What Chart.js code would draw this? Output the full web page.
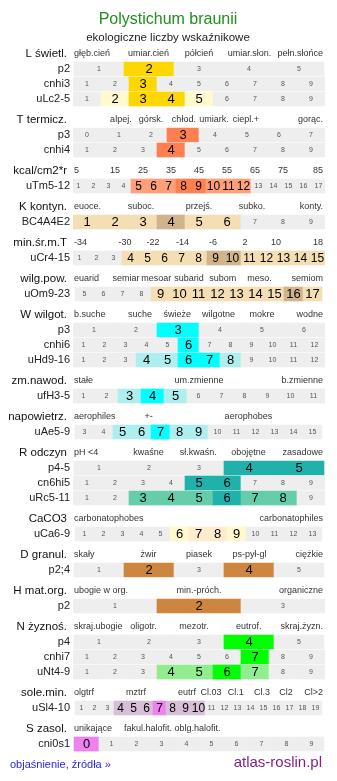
<!DOCTYPE html>
<html>
<head>
<meta charset="utf-8">
<script src="https://cdn.jsdelivr.net/npm/chart.js@4"></script>
<style>
  html, body { margin: 0; padding: 0; background: #fff; }
  canvas { display: block; }
</style>
</head>
<body>
<canvas id="chart" width="337" height="781"></canvas>
<script>
  'use strict';

  const TITLE = 'Polystichum braunii';
  const SUBTITLE = 'ekologiczne liczby wskaźnikowe';
  const LINK = 'objaśnienie, źródła »';
  const SITE = 'atlas-roslin.pl';

  // Header of each block: name, scale labels, where each label sits along the row (0 = left edge, 1 = right edge).
  // Rows: name, cell labels, strong cells, light cells.
  const headL = ['L świetl.', ['głęb.cień', 'umiar.cień', 'półcień', 'umiar.słon.', 'pełn.słońce'], [0, 0.3, 0.5, 0.7, 1]];
  const rowsL = [
    ['p2', [1, 2, 3, 4, 5], [2], []],
    ['cnhi3', [1, 2, 3, 4, 5, 6, 7, 8, 9], [3], []],
    ['uLc2-5', [1, 2, 3, 4, 5, 6, 7, 8, 9], [3, 4], [2, 5]]
  ];
  const colorsL = ['#ffd700', '#fffacd'];

  const headT = ['T termicz.', ['alpej.', 'górsk.', 'chłod.', 'umiark.', 'ciepl.+', 'gorąc.'], [0.19, 0.31, 0.44, 0.56, 0.686, 1]];
  const rowsT = [
    ['p3', [0, 1, 2, 3, 4, 5, 6, 7], [3], []],
    ['cnhi4', [1, 2, 3, 4, 5, 6, 7, 8, 9], [4], []]
  ];
  const colorsT = ['#ff7f50', '#ffa07a'];

  const headKcal = ['kcal/cm2*r', ['5', '15', '25', '35', '45', '55', '65', '75', '85'], [0, 0.167, 0.278, 0.389, 0.5, 0.611, 0.722, 0.833, 1]];
  const rowsKcal = [
    ['uTm5-12', [1, 2, 3, 4, 5, 6, 7, 8, 9, 10, 11, 12, 13, 14, 15, 16, 17], [8, 9], [5, 6, 7, 10, 11, 12]]
  ];
  const colorsKcal = ['#ff7f50', '#ffa07a'];

  const headK = ['K kontyn.', ['euoce.', 'suboc.', 'przejś.', 'subko.', 'konty.'], [0, 0.27, 0.5, 0.71, 1]];
  const rowsK = [
    ['BC4A4E2', [1, 2, 3, 4, 5, 6, 7, 8, 9], [4], [1, 2, 3, 5, 6]]
  ];
  const colorsK = ['#d2b48c', '#f5deb3'];

  const headMin = ['min.śr.m.T', ['-34', '-30', '-22', '-14', '-6', '2', '10', '18'], [0, 0.206, 0.317, 0.435, 0.556, 0.683, 0.806, 1]];
  const rowsMin = [
    ['uCr4-15', [1, 2, 3, 4, 5, 6, 7, 8, 9, 10, 11, 12, 13, 14, 15], [9, 10], [4, 5, 6, 7, 8, 11, 12, 13, 14, 15]]
  ];
  const colorsMin = ['#d2b48c', '#f5deb3'];

  const headWilg = ['wilg.pow.', ['euarid', 'semiar', 'mesoar', 'subarid', 'subom', 'meso.', 'semiom'], [0, 0.21, 0.33, 0.46, 0.594, 0.74, 1]];
  const rowsWilg = [
    ['uOm9-23', [5, 6, 7, 8, 9, 10, 11, 12, 13, 14, 15, 16, 17], [16], [9, 10, 11, 12, 13, 14, 15, 17]]
  ];
  const colorsWilg = ['#d2b48c', '#f5deb3'];

  const headW = ['W wilgot.', ['b.suche', 'suche', 'świeże', 'wilgotne', 'mokre', 'wodne'], [0, 0.266, 0.414, 0.577, 0.75, 1]];
  const rowsW = [
    ['p3', [1, 2, 3, 4, 5, 6], [3], []],
    ['cnhi6', [1, 2, 3, 4, 5, 6, 7, 8, 9, 10, 11, 12], [6], []],
    ['uHd9-16', [1, 2, 3, 4, 5, 6, 7, 8, 9, 10, 11, 12], [6, 7], [4, 5, 8]]
  ];
  const colorsW = ['#00ffff', '#afeeee'];

  const headZm = ['zm.nawod.', ['stałe', 'um.zmienne', 'b.zmienne'], [0, 0.5, 1]];
  const rowsZm = [
    ['ufH3-5', [1, 2, 3, 4, 5, 6, 7, 8, 9, 10, 11], [4], [3, 5]]
  ];
  const colorsZm = ['#00ffff', '#afeeee'];

  const headNap = ['napowietrz.', ['aerophiles', '+-', 'aerophobes'], [0, 0.3, 0.696]];
  const rowsNap = [
    ['uAe5-9', [3, 4, 5, 6, 7, 8, 9, 10, 11, 12, 13, 14, 15], [7], [5, 6, 8, 9]]
  ];
  const colorsNap = ['#00ffff', '#afeeee'];

  const headR = ['R odczyn', ['pH <4', 'kwaśne', 'sł.kwaśn.', 'obojętne', 'zasadowe'], [0, 0.3, 0.497, 0.696, 1]];
  const rowsR = [
    ['p4-5', [1, 2, 3, 4, 5], [4, 5], []],
    ['cn6hi5', [1, 2, 3, 4, 5, 6, 7, 8, 9], [5, 6], []],
    ['uRc5-11', [1, 2, 3, 4, 5, 6, 7, 8, 9], [6], [3, 4, 5, 7, 8]]
  ];
  const colorsR = ['#20b2aa', '#66cdaa'];

  const headCa = ['CaCO3', ['carbonatophobes', 'carbonatophiles'], [0, 1]];
  const rowsCa = [
    ['uCa6-9', [1, 2, 3, 4, 5, 6, 7, 8, 9, 10, 11, 12, 13], [7, 8], [6, 9]]
  ];
  const colorsCa = ['#ffebcd', '#fffacd'];

  const headD = ['D granul.', ['skały', 'żwir', 'piasek', 'ps-pył-gl', 'ciężkie'], [0, 0.3, 0.5, 0.7, 1]];
  const rowsD = [
    ['p2;4', [1, 2, 3, 4, 5], [2, 4], []]
  ];
  const colorsD = ['#cd853f', '#deb887'];

  const headH = ['H mat.org.', ['ubogie w org.', 'min.-próch.', 'organiczne'], [0, 0.5, 1]];
  const rowsH = [
    ['p2', [1, 2, 3], [2], []]
  ];
  const colorsH = ['#cd853f', '#deb887'];

  const headN = ['N żyznoś.', ['skraj.ubogie', 'oligotr.', 'mezotr.', 'eutrof.', 'skraj.żyzn.'], [0, 0.28, 0.48, 0.697, 1]];
  const rowsN = [
    ['p4', [1, 2, 3, 4, 5], [4], []],
    ['cnhi7', [1, 2, 3, 4, 5, 6, 7, 8, 9], [7], []],
    ['uNt4-9', [1, 2, 3, 4, 5, 6, 7, 8, 9], [6], [4, 5, 7]]
  ];
  const colorsN = ['#00ff00', '#90ee90'];

  const headSole = ['sole.min.', ['olgtrf', 'mztrf', 'eutrf', 'Cl.03', 'Cl.1', 'Cl.3', 'Cl2', 'Cl>2'], [0, 0.25, 0.452, 0.548, 0.646, 0.75, 0.845, 1]];
  const rowsSole = [
    ['uSl4-10', [1, 2, 3, 4, 5, 6, 7, 8, 9, 10, 11, 12, 13, 14, 15, 16, 17, 18, 19], [7], [4, 5, 6, 8, 9, 10]]
  ];
  const colorsSole = ['#ee82ee', '#d8bfd8'];

  const headS = ['S zasol.', ['unikające', 'fakul.halofit.', 'oblg.halofit.'], [0, 0.298, 0.494]];
  const rowsS = [
    ['cni0s1', [0, 1, 2, 3, 4, 5, 6, 7, 8, 9], [0], []]
  ];
  const colorsS = ['#ee82ee', '#d8bfd8'];

  const blocks = [
    [headL, rowsL, colorsL], [headT, rowsT, colorsT], [headKcal, rowsKcal, colorsKcal],
    [headK, rowsK, colorsK], [headMin, rowsMin, colorsMin], [headWilg, rowsWilg, colorsWilg],
    [headW, rowsW, colorsW], [headZm, rowsZm, colorsZm], [headNap, rowsNap, colorsNap],
    [headR, rowsR, colorsR], [headCa, rowsCa, colorsCa], [headD, rowsD, colorsD],
    [headH, rowsH, colorsH], [headN, rowsN, colorsN], [headSole, rowsSole, colorsSole],
    [headS, rowsS, colorsS]
  ];

  // Layout (pixels)
  const W = 337, H = 781;
  const GRID_LEFT = 73, GRID_W = 252;
  const FIRST_HEAD = 54, ROW_STEP = 15, BLOCK_GAP = 21, ROW_H = 14;
  const GREY = '#eeeeee';
  const FONT = "'Liberation Sans', Arial, sans-serif";

  // Build cells, header lines and row names.
  const cells = [];
  const heads = [];
  const rowNames = [];
  let pos = FIRST_HEAD;
  blocks.forEach(function (block) {
    const head = block[0], rows = block[1], colors = block[2];
    heads.push({ y: pos, name: head[0], labels: head[1], at: head[2] });
    rows.forEach(function (row, r) {
      const yc = pos + ROW_STEP * (r + 1);
      rowNames.push({ y: yc, name: row[0] });
      const n = row[1].length;
      const cw = Math.round(GRID_W / n);
      const off = Math.floor((GRID_W - cw * n) / 2);
      row[1].forEach(function (v, i) {
        let level = 0;
        if (row[2].indexOf(v) >= 0) level = 2;
        else if (row[3].indexOf(v) >= 0) level = 1;
        cells.push({
          x0: off + i * cw,
          x1: off + (i + 1) * cw,
          y: yc,
          text: String(v),
          level: level,
          big: cw > 17 ? 13 : 12,
          color: level === 2 ? colors[0] : (level === 1 ? colors[1] : GREY)
        });
      });
    });
    pos += ROW_STEP * rows.length + BLOCK_GAP;
  });

  const textPlugin = {
    id: 'texts',
    afterDatasetsDraw: function (chart) {
      const ctx = chart.ctx;
      const yScale = chart.scales.y;
      const area = chart.chartArea;
      const meta = chart.getDatasetMeta(0);
      ctx.save();
      ctx.textBaseline = 'middle';

      // Title
      ctx.textAlign = 'center';
      ctx.fillStyle = '#1f8f1f';
      ctx.font = '16px ' + FONT;
      ctx.fillText(TITLE, 168, 20);
      ctx.fillStyle = '#222';
      ctx.font = '11.5px ' + FONT;
      ctx.fillText(SUBTITLE, 168, 38);

      // Block headers
      heads.forEach(function (h) {
        const y = yScale.getPixelForValue(h.y);
        ctx.textAlign = 'right';
        ctx.fillStyle = '#111';
        ctx.font = '11.5px ' + FONT;
        ctx.fillText(h.name, 67, y);
        ctx.fillStyle = '#333';
        ctx.font = '9px ' + FONT;
        h.labels.forEach(function (label, i) {
          const f = h.at[i];
          const x = area.left + f * (area.right - area.left);
          ctx.textAlign = f === 0 ? 'left' : (f === 1 ? 'right' : 'center');
          ctx.fillText(label, x + (f === 0 ? 1 : (f === 1 ? -2 : 0)), y);
        });
      });

      // Row names
      ctx.textAlign = 'right';
      ctx.fillStyle = '#222';
      ctx.font = '11px ' + FONT;
      rowNames.forEach(function (r) {
        ctx.fillText(r.name, 70, yScale.getPixelForValue(r.y));
      });

      // Cell numbers
      ctx.textAlign = 'center';
      meta.data.forEach(function (bar, i) {
        const c = cells[i];
        const p = bar.getProps(['x', 'y', 'base'], true);
        const cx = (p.x + p.base) / 2;
        if (c.level) {
          ctx.font = c.big + 'px ' + FONT;
          ctx.fillStyle = '#000';
          ctx.fillText(c.text, cx, p.y + 0.5);
        } else {
          ctx.font = '7px ' + FONT;
          ctx.fillStyle = '#555';
          ctx.fillText(c.text, cx, p.y);
        }
      });

      // Footer
      ctx.textAlign = 'left';
      ctx.fillStyle = '#2626ee';
      ctx.font = '11px ' + FONT;
      ctx.fillText(LINK, 10, 765);
      ctx.textAlign = 'right';
      ctx.fillStyle = '#7f1f7f';
      ctx.font = '15px ' + FONT;
      ctx.fillText(SITE, 322, 763);
      ctx.restore();
    }
  };

  new Chart(document.getElementById('chart'), {
    type: 'bar',
    data: {
      datasets: [{
        data: cells.map(function (c) { return { x: [c.x0, c.x1], y: c.y }; }),
        backgroundColor: cells.map(function (c) { return c.color; }),
        borderWidth: 0,
        borderSkipped: false,
        barThickness: ROW_H
      }]
    },
    options: {
      indexAxis: 'y',
      responsive: false,
      animation: false,
      devicePixelRatio: 1,
      events: [],
      layout: { padding: { left: GRID_LEFT, right: W - GRID_LEFT - GRID_W, top: 0, bottom: 0 } },
      scales: {
        x: { type: 'linear', min: 0, max: GRID_W, display: false },
        y: { type: 'linear', min: 0, max: H, reverse: true, offset: false, display: false }
      },
      plugins: {
        legend: { display: false },
        tooltip: { enabled: false }
      }
    },
    plugins: [textPlugin]
  });
</script>
</body>
</html>
